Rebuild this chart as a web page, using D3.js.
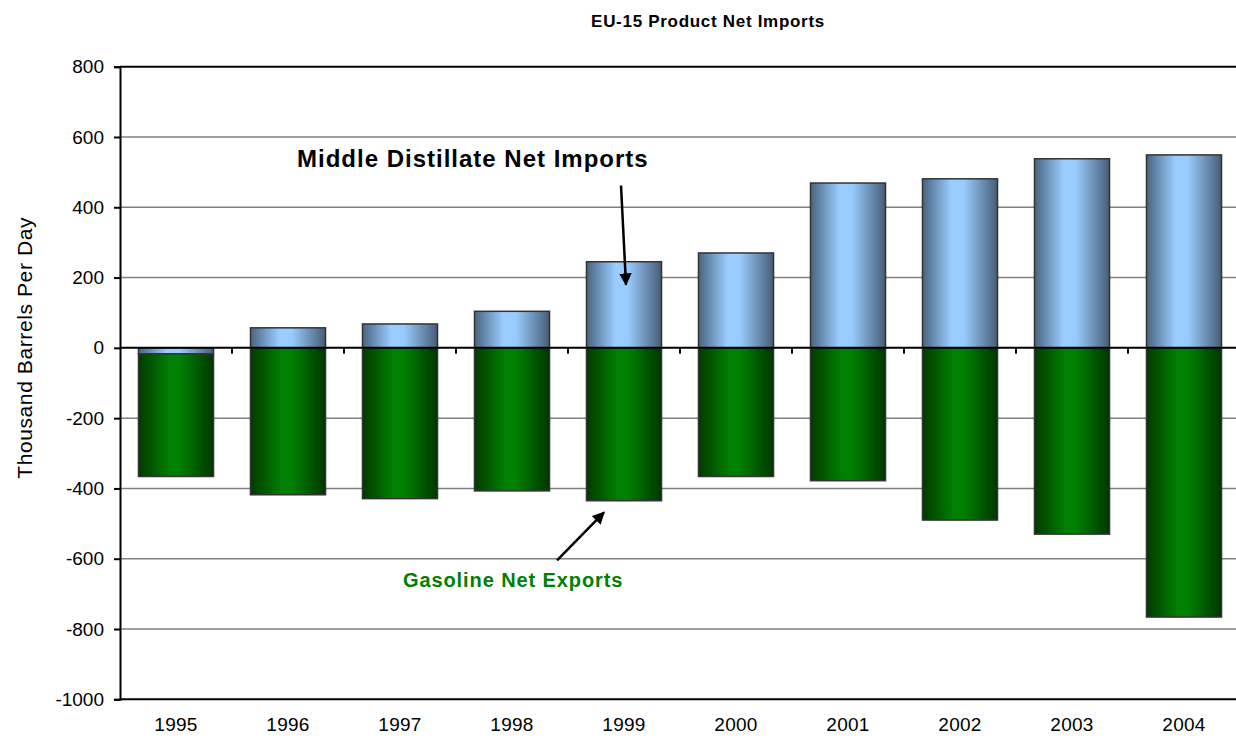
<!DOCTYPE html>
<html>
<head>
<meta charset="utf-8">
<script src="https://cdn.jsdelivr.net/npm/d3@7"></script>
<style>
  html, body { margin: 0; padding: 0; background: #fff; }
  svg { display: block; font-family: Arial, "Liberation Sans", sans-serif; }
</style>
</head>
<body>
<div id="chart"></div>
<script>
// Chart data
const years = ['1995', '1996', '1997', '1998', '1999', '2000', '2001', '2002', '2003', '2004'];
const middleDistillate = [-17, 57, 68, 104, 245, 270, 469, 481, 538, 549];
const gasoline = [-349, -418, -429, -407, -435, -366, -378, -490, -530, -766];
const yTicks = [-1000, -800, -600, -400, -200, 0, 200, 400, 600, 800];

const width = 1236;
const height = 742;
const margin = { left: 120, right: -4, top: 66.7, bottom: 42.7 };

const svg = d3.select('#chart')
    .append('svg')
    .attr('width', width)
    .attr('height', height);

const defs = svg.append('defs');

// Horizontal shading on the bars
const blueGrad = defs.append('linearGradient').attr('id', 'blueGrad')
    .attr('x1', '0%').attr('x2', '100%').attr('y1', '0%').attr('y2', '0%');
[['0%', '#4a6482'], ['38%', '#99ccff'], ['55%', '#99ccff'], ['100%', '#475d77']]
    .forEach(s => blueGrad.append('stop').attr('offset', s[0]).attr('stop-color', s[1]));

const greenGrad = defs.append('linearGradient').attr('id', 'greenGrad')
    .attr('x1', '0%').attr('x2', '100%').attr('y1', '0%').attr('y2', '0%');
[['0%', '#003a00'], ['42%', '#008000'], ['55%', '#008000'], ['100%', '#003600']]
    .forEach(s => greenGrad.append('stop').attr('offset', s[0]).attr('stop-color', s[1]));

const x = d3.scaleBand()
    .domain(years)
    .range([margin.left, width - margin.right])
    .padding(0);

const y = d3.scaleLinear()
    .domain([-1000, 800])
    .range([height - margin.bottom, margin.top]);

const barWidth = x.step() * 0.67;

// Gridlines
svg.append('g')
    .selectAll('line')
    .data(yTicks.filter(v => v !== 0 && v !== -1000 && v !== 800))
    .enter()
    .append('line')
    .attr('x1', margin.left)
    .attr('x2', width)
    .attr('y1', d => y(d))
    .attr('y2', d => y(d))
    .attr('stroke', '#808080')
    .attr('stroke-width', 1.5);

// top border line at 800
svg.append('line')
    .attr('x1', margin.left).attr('x2', width)
    .attr('y1', y(800)).attr('y2', y(800))
    .attr('stroke', '#000').attr('stroke-width', 2);

// Stacked bars
const rows = years.map((yr, i) => ({ year: yr, middle: middleDistillate[i], gasoline: gasoline[i] }));
const stack = d3.stack()
    .keys(['middle', 'gasoline'])
    .offset(d3.stackOffsetDiverging);
const series = stack(rows);
const fills = { middle: 'url(#blueGrad)', gasoline: 'url(#greenGrad)' };

series.forEach(s => {
    svg.append('g')
        .selectAll('rect')
        .data(s)
        .enter()
        .append('rect')
        .attr('x', d => x(d.data.year) + (x.step() - barWidth) / 2)
        .attr('width', barWidth)
        .attr('y', d => y(Math.max(d[0], d[1])))
        .attr('height', d => Math.abs(y(d[0]) - y(d[1])))
        .attr('fill', fills[s.key])
        .attr('stroke', '#333')
        .attr('stroke-width', 1.5);
});

// Zero line with category ticks
svg.append('line')
    .attr('x1', margin.left).attr('x2', width)
    .attr('y1', y(0)).attr('y2', y(0))
    .attr('stroke', '#000').attr('stroke-width', 2);

svg.append('g')
    .selectAll('line')
    .data(years.slice(1))
    .enter()
    .append('line')
    .attr('x1', d => x(d))
    .attr('x2', d => x(d))
    .attr('y1', y(0))
    .attr('y2', y(0) + 6)
    .attr('stroke', '#000')
    .attr('stroke-width', 2);

// Bottom axis line
svg.append('line')
    .attr('x1', margin.left).attr('x2', width)
    .attr('y1', y(-1000)).attr('y2', y(-1000))
    .attr('stroke', '#000').attr('stroke-width', 2);

// Y axis
const yAxis = svg.append('g')
    .attr('transform', `translate(${margin.left},0)`)
    .call(d3.axisLeft(y).tickValues(yTicks).tickSize(6).tickPadding(10).tickFormat(d => String(d)));
yAxis.select('.domain').attr('stroke', '#000').attr('stroke-width', 2);
yAxis.selectAll('.tick line').attr('stroke', '#000').attr('stroke-width', 2);
yAxis.selectAll('.tick text')
    .style('font-size', '19px')
    .style('font-family', 'Arial, "Liberation Sans", sans-serif')
    .attr('fill', '#000');

// X labels
svg.append('g')
    .selectAll('text')
    .data(years)
    .enter()
    .append('text')
    .attr('x', d => x(d) + x.step() / 2)
    .attr('y', height - 11)
    .attr('text-anchor', 'middle')
    .style('font-size', '19px')
    .style('letter-spacing', '0.3px')
    .text(d => d);

// Axis title
svg.append('text')
    .attr('transform', `translate(32, ${y(0)}) rotate(-90)`)
    .attr('text-anchor', 'middle')
    .style('font-size', '21px')
    .style('letter-spacing', '0.6px')
    .text('Thousand Barrels Per Day');

// Chart title
svg.append('text')
    .attr('x', 708)
    .attr('y', 27)
    .attr('text-anchor', 'middle')
    .style('font-size', '17px')
    .style('font-weight', 'bold')
    .style('letter-spacing', '0.7px')
    .text('EU-15 Product Net Imports');

// Annotations
const cx1999 = x('1999') + x.step() / 2;

svg.append('text')
    .attr('x', 297)
    .attr('y', y(515))
    .style('font-size', '24px')
    .style('font-weight', 'bold')
    .style('letter-spacing', '1px')
    .text('Middle Distillate Net Imports');

svg.append('text')
    .attr('x', 403)
    .attr('y', y(-680))
    .style('font-size', '20px')
    .style('font-weight', 'bold')
    .style('letter-spacing', '0.9px')
    .attr('fill', '#008000')
    .text('Gasoline Net Exports');

defs.append('marker')
    .attr('id', 'arrow')
    .attr('viewBox', '0 0 10 10')
    .attr('refX', 9).attr('refY', 5)
    .attr('markerWidth', 5).attr('markerHeight', 5)
    .attr('orient', 'auto')
    .append('path')
    .attr('d', 'M0,0 L10,5 L0,10 Z')
    .attr('fill', '#000');

svg.append('line')
    .attr('x1', cx1999 - 3).attr('y1', y(462))
    .attr('x2', cx1999 + 2).attr('y2', y(180))
    .attr('stroke', '#000').attr('stroke-width', 2.5)
    .attr('marker-end', 'url(#arrow)');

svg.append('line')
    .attr('x1', cx1999 - 67).attr('y1', y(-605))
    .attr('x2', cx1999 - 20).attr('y2', y(-468))
    .attr('stroke', '#000').attr('stroke-width', 2.5)
    .attr('marker-end', 'url(#arrow)');
</script>
</body>
</html>
